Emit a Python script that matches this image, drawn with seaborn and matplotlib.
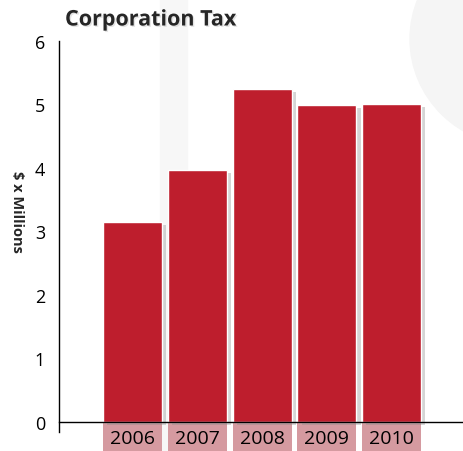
import matplotlib
matplotlib.use("Agg")
import matplotlib.pyplot as plt
import matplotlib.patches as mpatches
import matplotlib.patheffects as pe
import seaborn as sns
import pandas as pd

years = ["2006", "2007", "2008", "2009", "2010"]
tax = [3.15, 3.97, 5.24, 4.99, 5.01]
yticks = [0, 1, 2, 3, 4, 5, 6]
title = "Corporation Tax"
ylabel = "$ x Millions"

sns.set_style("white")
plt.rcParams["font.family"] = ["Open Sans", "DejaVu Sans"]

df = pd.DataFrame({"year": years, "tax": tax})

fig = plt.figure(figsize=(4.64, 4.52), dpi=100)
# faint background watermark
fig.patches.append(mpatches.Rectangle((160/464, 0), 27/464, 1, transform=fig.transFigure,
                                      color="#f7f7f7", zorder=-5))
fig.patches.append(mpatches.Circle((520/464, 1 - 40/452), 110/464, transform=fig.transFigure,
                                   color="#f5f5f5", zorder=-5))

ax = fig.add_axes([59/464, 0.0431, 404/464, 0.864])
ax.patch.set_alpha(0)

sns.barplot(data=df, x="year", y="tax", color="#be1e2d", saturation=1, width=0.91, ax=ax)

for bar in ax.patches:
    bar.set_path_effects([pe.SimplePatchShadow(offset=(3, -2), shadow_rgbFace="#888888", alpha=0.35),
                          pe.Normal()])
    ax.add_patch(mpatches.Rectangle((bar.get_x(), 0), bar.get_width(), -0.5,
                                    facecolor="#d59aa0", edgecolor="none", clip_on=False, zorder=0.5))

ax.set_xlim(-1.135, 5.1)
ax.set_ylim(-0.15, 6)
ax.set_yticks(yticks)
ax.set_yticklabels([str(v) for v in yticks], fontsize=13)

for s in ["top", "right"]:
    ax.spines[s].set_visible(False)
ax.spines["bottom"].set_position(("data", 0))
ax.spines["left"].set_color("black")
ax.spines["bottom"].set_color("black")
ax.spines["left"].set_linewidth(1)
ax.spines["bottom"].set_linewidth(1)

ax.tick_params(axis="y", which="major", direction="out", length=7, width=1, pad=3, colors="black")
ax.tick_params(axis="x", which="major", length=0, pad=5, labelsize=14, colors="black")
ax.set_xticks([5.1], minor=True)
ax.tick_params(axis="x", which="minor", direction="out", length=6.5, width=1)

ax.set_xlabel("")
ax.set_ylabel("")

fig.text(65/464, 1 - 21/452, title, fontsize=15.5, fontweight="bold", ha="left", va="center",
         path_effects=[pe.withSimplePatchShadow(offset=(1, -1), shadow_rgbFace="#bbbbbb", alpha=0.4)])
fig.text(17/464, 1 - 212/452, ylabel, fontsize=10.5, fontweight="bold", rotation=270,
         ha="center", va="center")

fig.savefig("out.png", dpi=100)
